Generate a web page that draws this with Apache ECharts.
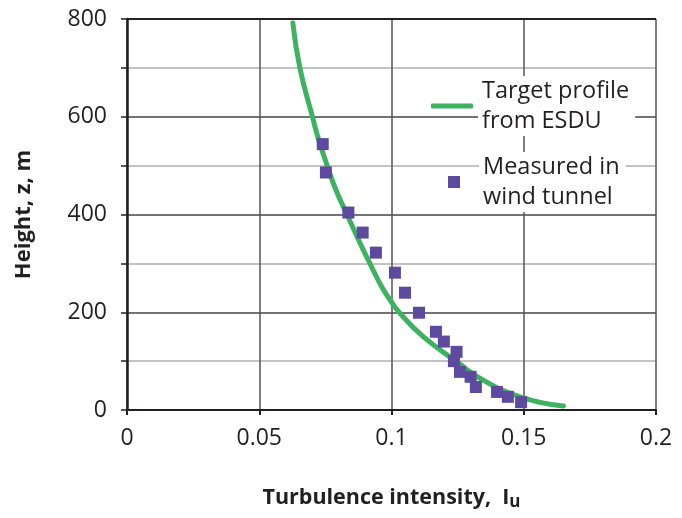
<!DOCTYPE html>
<html>
<head>
<meta charset="utf-8">
<script src="https://cdn.jsdelivr.net/npm/echarts@6/dist/echarts.min.js"></script>
<style>
  html, body { margin: 0; padding: 0; background: #fff; }
  #chart { width: 682px; height: 518px; }
</style>
</head>
<body>
<div id="chart"></div>
<script>
// target ESDU profile
const curveIu = [0.0627, 0.0654, 0.0702, 0.0723, 0.0758, 0.0790, 0.0836, 0.0884, 0.0921, 0.0963, 0.0995, 0.1032, 0.1120, 0.1246, 0.1334, 0.1486, 0.1650]
const curveZ = [792, 699, 598, 556, 498, 450, 395, 338, 297, 252, 225, 198, 150, 99, 65, 27, 8]

// wind tunnel measurements
const measIu = [0.0740, 0.0752, 0.0837, 0.0891, 0.0941, 0.1013, 0.1051, 0.1104, 0.1168, 0.1198, 0.1246, 0.1236, 0.1259, 0.1299, 0.1319, 0.1399, 0.1440, 0.1490]
const measZ = [544, 486, 404, 363, 322, 281, 240, 199, 160, 140, 119, 100, 78, 68, 47, 37, 27, 16]

const xTicks = [0, 0.05, 0.1, 0.15, 0.2]
const yTicks = [0, 200, 400, 600, 800]

const nameLine = 'Target profile\nfrom ESDU'
const nameMeas = 'Measured in\nwind tunnel'

const green = '#3db35f'
const purple = '#5d4aa0'
const ink = '#231f20'
const font = 'Open Sans'

var myChart = echarts.init(document.getElementById('chart'))

const legendText = {
  color: ink,
  fontFamily: font,
  fontSize: 23.5,
  lineHeight: 30,
  backgroundColor: '#fff',
  padding: [0, 6, 0, 4]
}

const option = {
  backgroundColor: '#fff',
  animation: false,
  grid: {
    left: 127,
    right: 26,
    top: 19,
    bottom: 108
  },
  legend: [{
    data: [{ name: nameLine, icon: 'roundRect' }],
    left: 431,
    top: 76,
    padding: 0,
    itemWidth: 42,
    itemHeight: 5,
    selectedMode: false,
    textStyle: legendText
  }, {
    data: [{ name: nameMeas, icon: 'path://M0,0h10v10h-10z' }],
    left: 448,
    top: 152,
    padding: 0,
    itemWidth: 40,
    itemHeight: 12,
    symbolKeepAspect: true,
    selectedMode: false,
    textStyle: legendText
  }],
  xAxis: {
    type: 'value',
    min: xTicks[0],
    max: xTicks[xTicks.length - 1],
    interval: 0.05,
    name: 'Turbulence intensity,  {i|I}{u|u}',
    nameLocation: 'middle',
    nameGap: 74,
    nameTextStyle: {
      color: ink,
      fontFamily: font,
      fontSize: 21.5,
      fontWeight: 'bold',
      rich: {
        i: { fontFamily: font, fontSize: 21.5, fontWeight: 'bold', color: ink },
        u: { fontFamily: font, fontSize: 17, fontWeight: 'bold', color: ink, padding: [10, 0, 0, 0] }
      }
    },
    axisLine: { show: true, onZero: false, lineStyle: { color: ink, width: 2 } },
    axisTick: { show: true, length: 5, lineStyle: { color: ink, width: 2 } },
    axisLabel: { color: ink, fontFamily: font, fontSize: 23, margin: 17 },
    splitLine: { show: true, showMaxLine: true, lineStyle: { color: '#555', width: 1.5 } }
  },
  yAxis: {
    type: 'value',
    min: yTicks[0],
    max: yTicks[yTicks.length - 1],
    interval: 200,
    name: 'Height, z, m',
    nameLocation: 'middle',
    nameGap: 92,
    nameTextStyle: {
      color: ink,
      fontFamily: font,
      fontSize: 22,
      fontWeight: 'bold'
    },
    axisLine: { show: true, lineStyle: { color: ink, width: 2.5 } },
    axisTick: { show: true, length: 6, lineStyle: { color: ink, width: 1.5 } },
    minorTick: { show: true, splitNumber: 2, length: 6, lineStyle: { color: ink, width: 1.5 } },
    axisLabel: { color: ink, fontFamily: font, fontSize: 23, margin: 20 },
    splitLine: { show: true, showMaxLine: true, lineStyle: { color: '#444', width: 1.5 } },
    minorSplitLine: { show: true, lineStyle: { color: '#b0b0b0', width: 1.5 } }
  },
  series: [{
    name: nameLine,
    type: 'line',
    smooth: 0.5,
    symbol: 'none',
    lineStyle: { color: green, width: 5, cap: 'round' },
    itemStyle: { color: green },
    data: curveIu.map((v, i) => [v, curveZ[i]])
  }, {
    name: nameMeas,
    type: 'scatter',
    symbol: 'rect',
    symbolSize: 12,
    itemStyle: { color: purple, opacity: 1 },
    z: 3,
    data: measIu.map((v, i) => [v, measZ[i]])
  }]
}

if (option && typeof option === 'object') {
  myChart.setOption(option)
}

// top border of the plot (the max split line gets covered), placed through the axes' scales
const p0 = myChart.convertToPixel({ gridIndex: 0 }, [xTicks[0], yTicks[yTicks.length - 1]])
const p1 = myChart.convertToPixel({ gridIndex: 0 }, [xTicks[xTicks.length - 1], yTicks[yTicks.length - 1]])
myChart.setOption({
  graphic: [{
    type: 'line',
    z: 100,
    shape: { x1: p0[0], y1: p0[1], x2: p1[0], y2: p1[1] },
    style: { stroke: '#222', lineWidth: 2 }
  }]
})
</script>
</body>
</html>
